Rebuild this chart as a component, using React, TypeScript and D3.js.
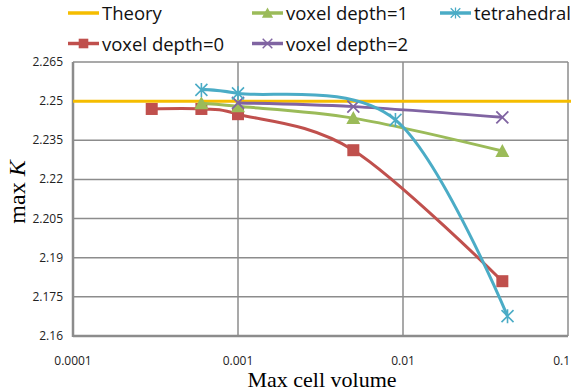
import React, { useEffect, useRef } from 'react'
import * as d3 from 'd3'

// data
const theoryValue = 2.25
const depth0X = [0.0003, 0.0006, 0.001, 0.005, 0.04]
const depth0Y = [2.247, 2.247, 2.245, 2.2312, 2.181]
const depth1X = [0.0006, 0.001, 0.005, 0.04]
const depth1Y = [2.2492, 2.248, 2.2435, 2.2309]
const depth2X = [0.001, 0.005, 0.04]
const depth2Y = [2.2493, 2.2479, 2.2438]
const tetraX = [0.0006, 0.001, 0.009, 0.043]
const tetraY = [2.2543, 2.253, 2.2428, 2.1676]
const yTicks = [2.16, 2.175, 2.19, 2.205, 2.22, 2.235, 2.25, 2.265]
const xTicks = [0.0001, 0.001, 0.01, 0.1]

const App = () => {
  const ref = useRef<SVGSVGElement>(null)

  useEffect(() => {
    const svg = d3.select(ref.current)
    svg.selectAll('*').remove()

    const left = 73, right = 568, top = 62, bottom = 336
    const x = d3.scaleLog().domain([0.0001, 0.1]).range([left, right])
    const y = d3.scaleLinear().domain([2.16, 2.265]).range([bottom, top])

    const grid = svg.append('g')
    yTicks.forEach(t => {
      grid.append('line')
        .attr('x1', left).attr('x2', right)
        .attr('y1', y(t)).attr('y2', y(t))
        .attr('stroke', '#8c8c8c').attr('stroke-width', 1.5)
    })
    xTicks.forEach(t => {
      grid.append('line')
        .attr('x1', x(t)).attr('x2', x(t))
        .attr('y1', top).attr('y2', bottom)
        .attr('stroke', '#8c8c8c').attr('stroke-width', 1.5)
    })
    // axes a bit heavier
    svg.append('line').attr('x1', left).attr('x2', left).attr('y1', top).attr('y2', bottom + 1)
      .attr('stroke', '#8c8c8c').attr('stroke-width', 2.5)
    svg.append('line').attr('x1', left).attr('x2', right).attr('y1', bottom).attr('y2', bottom)
      .attr('stroke', '#8c8c8c').attr('stroke-width', 2.5)

    // tick labels
    yTicks.forEach(t => {
      svg.append('text')
        .attr('x', left - 10).attr('y', y(t) + 4)
        .attr('text-anchor', 'end')
        .attr('font-family', 'Open Sans, sans-serif').attr('font-size', 12)
        .attr('fill', '#222')
        .text(String(t))
    })
    xTicks.forEach((t, i) => {
      const last = i === xTicks.length - 1
      svg.append('text')
        .attr('x', last ? 570 : x(t)).attr('y', bottom + 29)
        .attr('text-anchor', last ? 'end' : 'middle')
        .attr('font-family', 'Open Sans, sans-serif').attr('font-size', 12)
        .attr('fill', '#222')
        .text(String(t))
    })

    // axis titles
    svg.append('text')
      .attr('x', 322).attr('y', 387)
      .attr('text-anchor', 'middle')
      .attr('font-family', 'Liberation Serif, serif').attr('font-size', 22)
      .text('Max cell volume')
    const yt = svg.append('text')
      .attr('transform', 'translate(25,192) rotate(-90)')
      .attr('text-anchor', 'middle')
      .attr('font-family', 'Liberation Serif, serif').attr('font-size', 24)
    yt.append('tspan').text('max ')
    yt.append('tspan').attr('font-style', 'italic').text('K')

    // theory line
    svg.append('line')
      .attr('x1', left).attr('x2', 571)
      .attr('y1', y(theoryValue)).attr('y2', y(theoryValue))
      .attr('stroke', '#F5BD00').attr('stroke-width', 3)

    const line = d3.line<[number, number]>()
      .x(d => x(d[0])).y(d => y(d[1]))
      .curve(d3.curveCardinal.tension(0))

    const series = [
      { xs: depth0X, ys: depth0Y, color: '#C0504D', marker: 'square' },
      { xs: depth1X, ys: depth1Y, color: '#9BBB59', marker: 'triangle' },
      { xs: depth2X, ys: depth2Y, color: '#8064A2', marker: 'cross' },
      { xs: tetraX, ys: tetraY, color: '#4BACC6', marker: 'star' },
    ]

    const drawMarker = (g: any, type: string, cx: number, cy: number, color: string) => {
      if (type === 'square') {
        g.append('rect').attr('x', cx - 6).attr('y', cy - 6).attr('width', 12).attr('height', 12).attr('fill', color)
      } else if (type === 'triangle') {
        g.append('path').attr('d', `M${cx},${cy - 7}L${cx + 7},${cy + 6}L${cx - 7},${cy + 6}Z`).attr('fill', color)
      } else if (type === 'cross') {
        g.append('path').attr('d', `M${cx - 6},${cy - 6}L${cx + 6},${cy + 6}M${cx + 6},${cy - 6}L${cx - 6},${cy + 6}`)
          .attr('stroke', color).attr('stroke-width', 1.8)
      } else {
        g.append('path').attr('d', `M${cx - 6},${cy - 6}L${cx + 6},${cy + 6}M${cx + 6},${cy - 6}L${cx - 6},${cy + 6}M${cx},${cy - 7}L${cx},${cy + 7}`)
          .attr('stroke', color).attr('stroke-width', 1.6)
      }
    }

    series.forEach(s => {
      const pts = s.xs.map((v, i) => [v, s.ys[i]] as [number, number])
      svg.append('path').attr('d', line(pts)).attr('fill', 'none')
        .attr('stroke', s.color).attr('stroke-width', 3)
      pts.forEach(p => drawMarker(svg, s.marker, x(p[0]), y(p[1]), s.color))
    })

    // legend
    const legend = [
      { name: 'Theory', color: '#F5BD00', marker: '', lx: 68, ly: 13 },
      { name: 'voxel depth=1', color: '#9BBB59', marker: 'triangle', lx: 252, ly: 13 },
      { name: 'tetrahedral', color: '#4BACC6', marker: 'star', lx: 440, ly: 13 },
      { name: 'voxel depth=0', color: '#C0504D', marker: 'square', lx: 68, ly: 43.5 },
      { name: 'voxel depth=2', color: '#8064A2', marker: 'cross', lx: 252, ly: 43.5 },
    ]
    legend.forEach(l => {
      svg.append('line').attr('x1', l.lx).attr('x2', l.lx + 31).attr('y1', l.ly).attr('y2', l.ly)
        .attr('stroke', l.color).attr('stroke-width', 3.5)
      if (l.marker) {
        const g = svg.append('g').attr('transform', `translate(${l.lx + 15.5},${l.ly}) scale(0.8) translate(${-(l.lx + 15.5)},${-l.ly})`)
        drawMarker(g, l.marker, l.lx + 15.5, l.ly, l.color)
      }
      svg.append('text').attr('x', l.lx + 34).attr('y', l.ly + 7)
        .attr('font-family', 'Open Sans, sans-serif').attr('font-size', 18.5)
        .attr('fill', '#111')
        .text(l.name)
    })
  }, [])

  return <svg ref={ref} width={571} height={392} style={{ position: 'absolute', left: 0, top: 0, background: '#fff' }} />
}

export default App
